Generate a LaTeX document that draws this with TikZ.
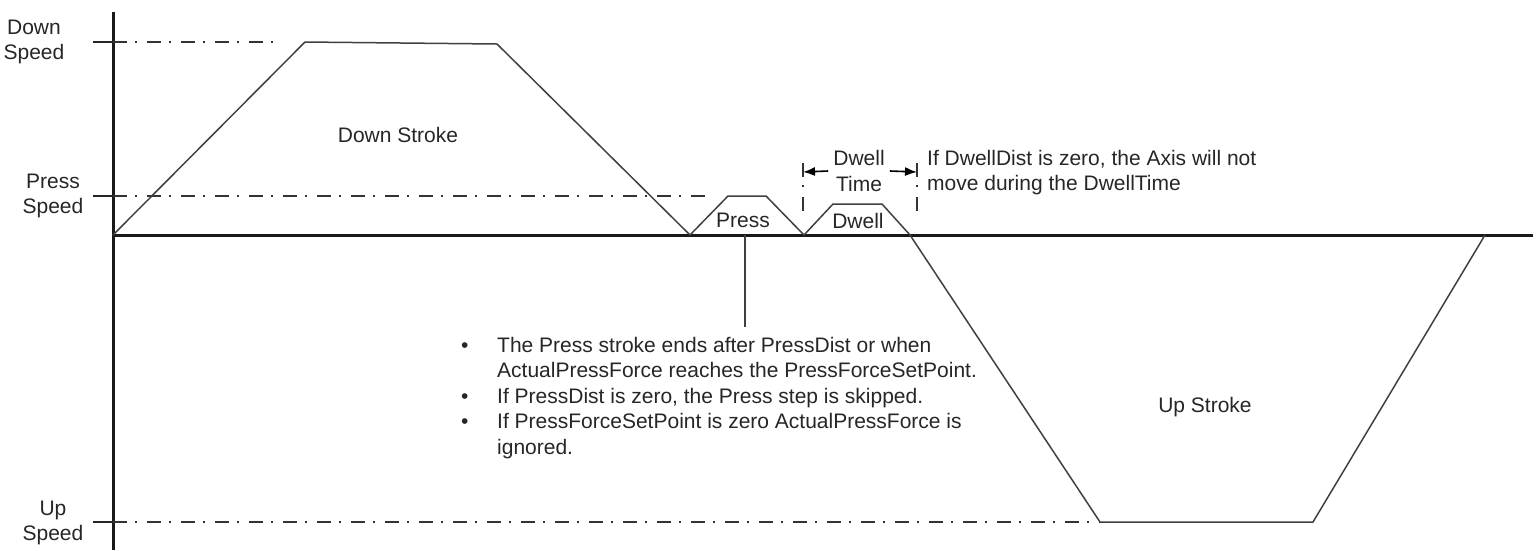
\documentclass[tikz,border=0pt]{standalone}
\usepackage{fontspec}
\setmainfont{Liberation Sans}
\usetikzlibrary{arrows.meta,positioning}
\newcommand{\bul}{\makebox[36pt][l]{\textbullet}}

\begin{document}
\begin{tikzpicture}[x=1pt, y=-1pt, font=\fontsize{21}{25.5}\selectfont]

% Define styles
\tikzstyle{axisline} = [line width=3pt, draw=black!90]
\tikzstyle{speedtick} = [line width=2pt, draw=black!85]
\tikzstyle{speedline} = [line width=2pt, draw=black!80, dash pattern=on 14pt off 8pt on 2pt off 10pt]
\tikzstyle{profile} = [line width=1.5pt, draw=black!75, line join=miter]
\tikzstyle{arrow} = [-{Latex[length=12pt,width=9pt]}, line width=1.6pt, draw=black]
\tikzstyle{lead} = [line width=1.6pt, draw=black!75]
\tikzstyle{phase} = [text=black!85, inner sep=0pt, align=center]
\tikzstyle{note} = [text=black!85, inner sep=0pt, align=left]

\useasboundingbox (0,0) rectangle (1540,550);

% Define axes
\draw[axisline] (113,12) -- (113,550);
\draw[axisline] (113,235) -- (1533,235);

% Define speed levels
\draw[speedtick] (93,42) -- (113,42);
\draw[speedline] (113,42) -- (282,42);
\draw[speedtick] (93,196) -- (113,196);
\draw[speedline] (113,196) -- (712,196);
\draw[speedtick] (93,522) -- (113,522);
\draw[speedline] (113,522) -- (1100,522);

\node[phase] (downSpeed) at (34,42) {Down\\Speed};
\node[phase] (pressSpeed) at (53,196) {Press\\Speed};
\node[phase] (upSpeed) at (53,523) {Up\\Speed};

% Define motion profile
\draw[profile] (113,235) -- (305,42) -- (497,44) -- (690,235)
  -- (728,196) -- (766,196) -- (804,235)
  -- (833,204) -- (882,204) -- (910,235)
  -- (1100,522) -- (1313,522) -- (1485,235);

% Define phase labels
\node[phase] (downStroke) at (398,135) {Down Stroke};
\node[phase] (press) at (743,220) {Press};
\node[phase] (dwell) at (858,221) {Dwell};
\node[phase] (upStroke) at (1205,407) {Up Stroke};

% Define dwell time marker
\coordinate (dwellLeft) at (803,172);
\coordinate (dwellRight) at (917,172);
\draw[speedline] (803,163) -- (803,213);
\draw[speedline] (917,163) -- (917,213);
\node[phase, inner sep=5pt] (dwellTime) at (859,171) {Dwell\\Time};
\draw[arrow] (dwellTime.west) -- (dwellLeft);
\draw[arrow] (dwellTime.east) -- (dwellRight);

\node[note, anchor=north west] (dwellNote) at (927,150) {If DwellDist is zero, the Axis will not\\move during the DwellTime};

% Define press notes
\node[note, anchor=north west] (pressNote) at (461,337) {\bul The Press stroke ends after PressDist or when\\
\hspace*{36pt}ActualPressForce reaches the PressForceSetPoint.\\
\bul If PressDist is zero, the Press step is skipped.\\
\bul If PressForceSetPoint is zero ActualPressForce is\\
\hspace*{36pt}ignored.};

\coordinate (pressFoot) at (745,235);
\draw[lead, shorten >=10pt] (pressFoot) -- (pressFoot |- pressNote.north);

\end{tikzpicture}
\end{document}
